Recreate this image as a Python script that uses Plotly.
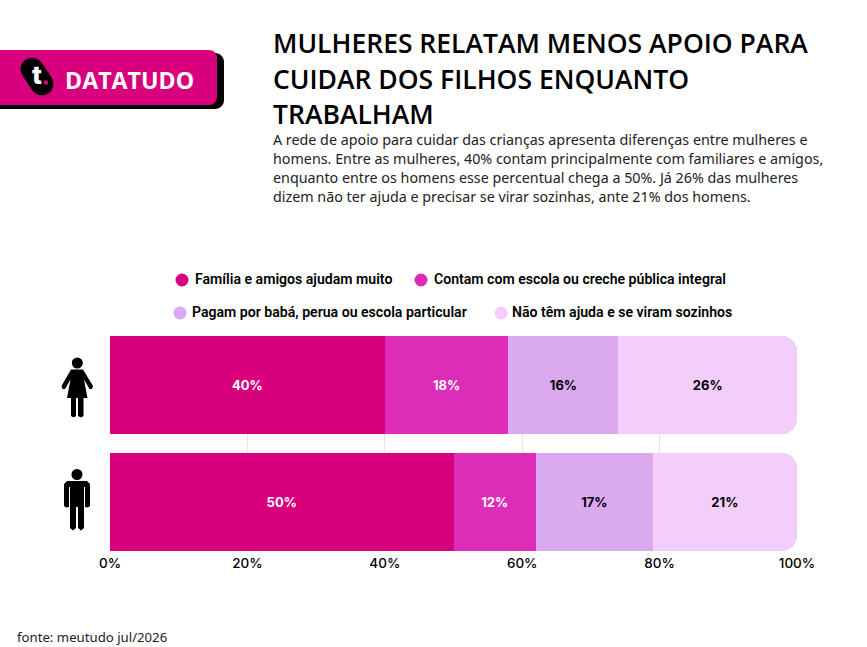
import math
import plotly.graph_objects as go

W, H = 867, 647

categorias = ["Mulheres", "Homens"]
series = [
    "Família e amigos ajudam muito",
    "Contam com escola ou creche pública integral",
    "Pagam por babá, perua ou escola particular",
    "Não têm ajuda e se viram sozinhos",
]
valores = [
    [40, 50],
    [18, 12],
    [16, 17],
    [26, 21],
]
cores = ["#D9007E", "#DC2CB8", "#DBA9F0", "#F3CEFD"]
cores_texto = ["white", "white", "black", "black"]
ticks = [0, 20, 40, 60, 80, 100]

titulo = [
    "MULHERES RELATAM MENOS APOIO PARA",
    "CUIDAR DOS FILHOS ENQUANTO",
    "TRABALHAM",
]
texto = [
    "A rede de apoio para cuidar das crianças apresenta diferenças entre mulheres e",
    "homens. Entre as mulheres, 40% contam principalmente com familiares e amigos,",
    "enquanto entre os homens esse percentual chega a 50%. Já 26% das mulheres",
    "dizem não ter ajuda e precisar se virar sozinhas, ante 21% dos homens.",
]


# tudo fora do gráfico é posicionado em pixels da página (margem zero)
def px_x(x):
    return x / W


def px_y(y):
    return 1 - y / H


def caminho(pontos):
    return "M " + " L ".join(f"{px_x(x):.5f},{px_y(y):.5f}" for x, y in pontos) + " Z"


def forma(pontos, cor):
    return dict(type="path", xref="paper", yref="paper", path=caminho(pontos),
                fillcolor=cor, line=dict(width=0), layer="above")


def circulo(cx, cy, r, cor):
    return dict(type="circle", xref="paper", yref="paper", x0=px_x(cx - r), x1=px_x(cx + r),
                y0=px_y(cy + r), y1=px_y(cy - r), fillcolor=cor, line=dict(width=0), layer="above")


def arco(cx, cy, r, a0, a1, n=8):
    return [(cx + r * math.cos(math.radians(a0 + (a1 - a0) * i / n)),
             cy + r * math.sin(math.radians(a0 + (a1 - a0) * i / n))) for i in range(n + 1)]


def barra_logo(y0, y1, x1, r, cor):
    # retângulo que sai pela esquerda da página, com os cantos direitos redondos
    pontos = [(0, y0)] + arco(x1 - r, y0 + r, r, -90, 0) + arco(x1 - r, y1 - r, r, 0, 90) + [(0, y1)]
    return forma(pontos, cor)


def capsula(x0, y0, x1, y1, r, cor):
    ang = math.degrees(math.atan2(y1 - y0, x1 - x0))
    return forma(arco(x1, y1, r, ang - 90, ang + 90) + arco(x0, y0, r, ang + 90, ang + 270), cor)


def nota(txt, x, y, size, cor="black", familia="Inter", peso=400, anchor="left"):
    # plotly desloca o texto uns 2.5px por causa do padding da anotação
    if anchor == "left":
        x = x - 2.5
    return dict(text=txt, xref="paper", yref="paper", x=px_x(x), y=px_y(y), xanchor=anchor,
                yanchor="middle", showarrow=False, align="left",
                font=dict(size=size, color=cor, family=familia, weight=peso))


fig = go.Figure()

for nome, vals, cor, cor_txt in zip(series, valores, cores, cores_texto):
    fig.add_trace(go.Bar(
        y=categorias, x=vals, name=nome, orientation="h",
        marker=dict(color=cor, line=dict(width=0)),
        text=[f"{v}%" for v in vals],
        textposition="inside", insidetextanchor="middle", textangle=0,
        textfont=dict(color=cor_txt, size=13, family="Inter", weight=700),
        hoverinfo="skip",
    ))

formas = []
notas = []

# logo
formas.append(barra_logo(53, 109, 224, 9, "black"))
formas.append(barra_logo(50, 105, 217, 8, cores[0]))
formas.append(capsula(32, 69, 42, 84, 11.5, "black"))
notas.append(nota("t", 37, 75, 26, "white", "Inter", 800, "center"))
formas.append(circulo(46, 82.5, 2.2, cores[0]))
notas.append(nota("DATATUDO", 65, 80, 23.2, "white", "Open Sans", 700))

# mulher
formas.append(circulo(77.3, 363, 5.5, "black"))
formas.append(forma([(71, 369.5), (83, 369.5), (93, 386), (92, 389), (89.5, 389), (84, 379.5), (87.5, 398),
                     (83.5, 398), (83.5, 416), (81, 417.5), (78, 416), (78, 398), (76, 398), (76, 416),
                     (73.5, 417.5), (71, 416), (71, 398), (67, 398), (70.5, 379.5), (65, 389),
                     (62.5, 389), (61.5, 386)], "black"))

# homem
formas.append(circulo(77, 474.5, 5.5, "black"))
formas.append(forma([(67, 481), (87, 481), (90, 484), (90, 506), (88, 507.5), (85, 507), (85, 487), (84, 487),
                     (84, 528), (81, 530.5), (78, 528), (78, 507), (76, 507), (76, 528), (73, 530.5),
                     (70, 528), (70, 487), (69, 487), (69, 507), (66, 507.5), (64, 506), (64, 484)], "black"))

# legenda: bolinha e início do texto
pos_legenda = [(182, 195, 279), (421, 434, 279), (180, 192, 312), (501, 512, 312)]
for nome, cor, (bx, tx, ly) in zip(series, cores, pos_legenda):
    formas.append(circulo(bx, ly + 1, 6.5, cor))
    notas.append(nota(nome, tx, ly, 14.1, "black", "Roboto", 600))

# título e texto
for txt, y in zip(titulo, [42.5, 78.5, 113.5]):
    notas.append(nota(txt, 273, y, 26.5, "black", "Open Sans", 600))
for txt, y in zip(texto, [139, 158, 177, 196]):
    notas.append(nota(txt, 273, y, 14.3, "#222222", "Noto Sans", 400))

notas.append(nota("fonte: meutudo jul/2026", 17, 637, 13.2, "#222222", "Noto Sans", 400))

fig.update_layout(
    width=W, height=H,
    barmode="stack", bargap=0.16, barcornerradius=15,
    showlegend=False,
    paper_bgcolor="white", plot_bgcolor="white",
    margin=dict(l=0, r=0, t=0, b=0, autoexpand=False),
    shapes=formas, annotations=notas,
)
fig.update_xaxes(domain=[110 / W, 797 / W], range=[0, 100], tickvals=ticks,
                 ticktext=[f"{t}%" for t in ticks],
                 showgrid=True, gridcolor="#E6E6E6", gridwidth=1, zeroline=False,
                 ticks="", ticklabelstandoff=2,
                 tickfont=dict(size=13.5, family="Inter", color="black", weight=500))
# barras encostam no topo e na base da área do gráfico
fig.update_yaxes(domain=[px_y(551), px_y(336)], range=[1.42, -0.42],
                 showticklabels=False, showgrid=False, zeroline=False, ticks="")

# sem a margem padrão do body, para os pixels baterem com a página
fig.write_html("out.html", config=dict(displayModeBar=False),
               post_script="document.body.style.margin='0';")
